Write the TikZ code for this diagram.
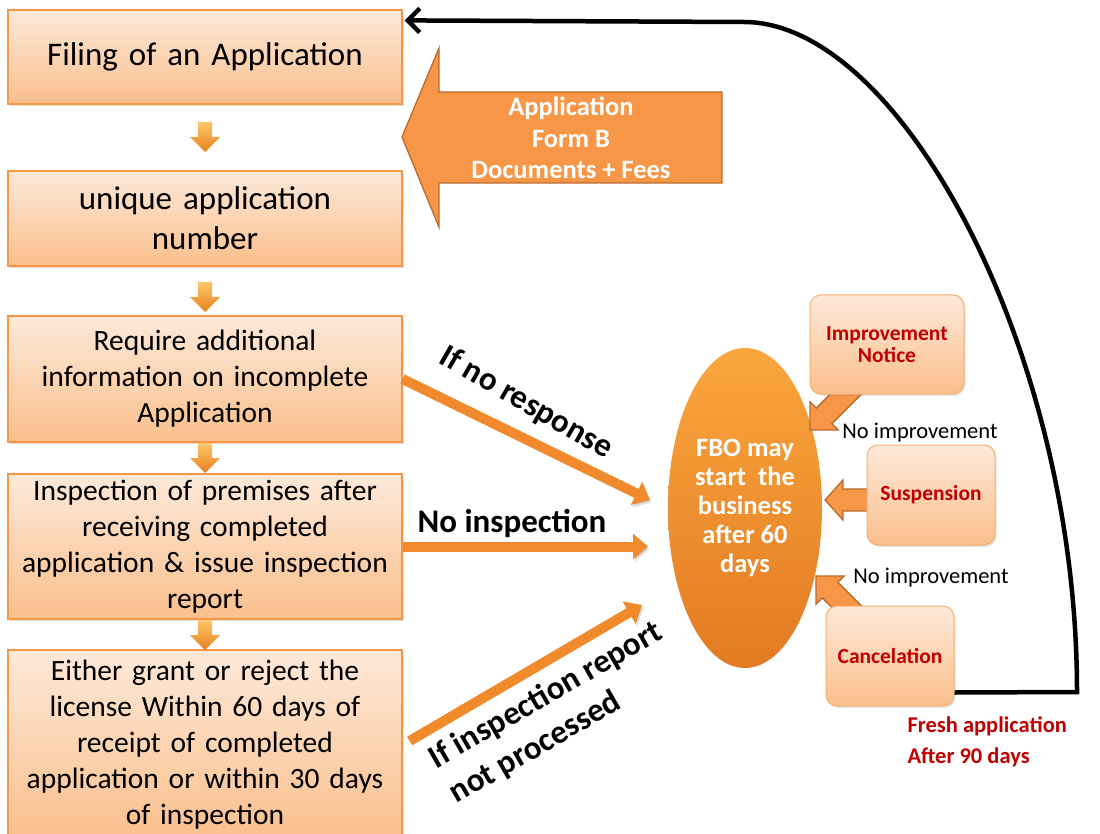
\documentclass[tikz,border=0pt]{standalone}
\usepackage{fontspec}
\setmainfont{Carlito}
\usetikzlibrary{arrows.meta,shapes.geometric,calc,shadows}

\definecolor{peachtop}{HTML}{FDE9D9}
\definecolor{peachbot}{HTML}{FABF8C}
\definecolor{peachline}{HTML}{F79646}
\definecolor{softline}{HTML}{F8AE6E}
\definecolor{blockfill}{HTML}{F79646}
\definecolor{blockedge}{HTML}{B96A2E}
\definecolor{linkorange}{HTML}{F08A2C}
\definecolor{ovaltop}{HTML}{FAA63E}
\definecolor{ovalbot}{HTML}{E27A22}
\definecolor{darkred}{HTML}{C00000}
\definecolor{tiptop}{HTML}{FCC869}
\definecolor{tipbot}{HTML}{E87F1C}

\begin{document}
\begin{tikzpicture}[x=1pt,y=-1pt,
  stepbox/.style={draw=peachline, line width=1.2pt, top color=peachtop,
    bottom color=peachbot, minimum width=394pt, inner sep=0pt,
    text width=388pt, align=center,
    drop shadow={opacity=0.25, shadow xshift=1.5pt, shadow yshift=-2pt}},
  bigtext/.style={font=\fontsize{33}{40}\selectfont},
  midtext/.style={font=\fontsize{29.5}{36}\selectfont},
  sidebox/.style={draw=softline, line width=1pt, rounded corners=11pt,
    top color=peachtop, bottom color=peachbot, align=center,
    text=darkred, font=\bfseries\fontsize{21.5}{22}\selectfont,
    drop shadow={opacity=0.2, shadow xshift=1.5pt, shadow yshift=-2pt}},
  blockarrow/.style={fill=blockfill, draw=blockedge, line width=1.3pt, line join=miter},
  smallarrow/.style={top color=tiptop, bottom color=tipbot, draw=none},
  link/.style={draw=linkorange, line width=10pt,
    -{Triangle[length=15pt, width=25pt]},
    preaction={draw=black, opacity=0.12,
      transform canvas={xshift=1.5pt, yshift=-2.5pt}}},
  linklabel/.style={font=\bfseries\fontsize{33}{40}\selectfont},
  note/.style={font=\fontsize{22.5}{24}\selectfont},
  returnline/.style={draw=black, line width=4.5pt, line join=miter,
    -{Straight Barb[length=12pt, width=24pt]}},
  downtip/.pic={
    \path[smallarrow] (-7,0) -- (7,0) -- (7,15) -- (15,15) -- (0,30)
      -- (-15,15) -- (-7,15) -- cycle;}
]
\useasboundingbox (0,0) rectangle (1100,834);

% main column of steps
\node[stepbox, bigtext, minimum height=94pt] (filing) at (205,57) {Filing of an Application};
\node[stepbox, bigtext, minimum height=95pt] (uan) at (205,218.5) {unique application\\number};
\node[stepbox, midtext, minimum height=126pt] (req) at (205,379) {Require additional\\information on incomplete\\Application};
\node[stepbox, midtext, minimum height=145pt] (insp) at (205,546.5) {Inspection of premises after\\receiving completed\\application \& issue inspection\\report};
\node[stepbox, midtext, minimum height=190pt] (grant) at (205,745) {Either grant or reject the\\license Within 60 days of\\receipt of completed\\application or within 30 days\\of inspection};

% small arrows between the steps
\pic at (205,122) {downtip};
\pic at (205,282) {downtip};
\pic at (205,443) {downtip};
\pic at (205,620) {downtip};

% incoming application block arrow
\path[blockarrow] (722,92) -- (439,92) -- (439,48) -- (402,137) -- (439,227)
  -- (439,183) -- (722,183) -- cycle;
\node[text=white, font=\bfseries\fontsize{26.5}{31.5}\selectfont, align=center]
  (appform) at (571,138) {Application\\Form B\\Documents + Fees};

% outcome oval
\node[ellipse, minimum width=154pt, minimum height=320pt, inner sep=0pt,
  top color=ovaltop, bottom color=ovalbot, text=white, align=center,
  font=\bfseries\fontsize{26.5}{29}\selectfont] (fbo) at (745,508)
  {FBO may\\start~ the\\business\\after 60\\days};

% connectors into the oval
\coordinate (in1) at (650,500);
\coordinate (in2) at (648,546.5);
\coordinate (in3) at (642,605);
\draw[link] (req.east) -- (in1);
\draw[link] ($(grant.east)+(7,-4)$) -- (in3);
\draw[link] (insp.east) -- (in2);

\node[linklabel, rotate=-30] (lnoresp) at (526,403) {If no response};
\node[linklabel] (lnoinsp) at (512,523) {No inspection};
\node[linklabel, rotate=30, align=left] (lnotproc) at (556,713)
  {If inspection report\\not processed};

% block arrows from the enforcement steps
\path[blockarrow] (810,430) -- (838.2,430) -- (831.9,423.7) -- (863.7,391.9)
  -- (848.1,376.3) -- (816.3,408.1) -- (810,401.8) -- cycle;
\path[blockarrow] (880,489) -- (843,489) -- (843,480) -- (825,500) -- (843,520)
  -- (843,511) -- (880,511) -- cycle;
\path[blockarrow] (816,576) -- (844.2,576) -- (837.9,582.3) -- (869.7,614.1)
  -- (854.1,629.7) -- (822.3,597.9) -- (816,604.2) -- cycle;

% enforcement steps
\node[sidebox, minimum width=154pt, minimum height=99pt] (notice) at (887,344.5) {Improvement\\Notice};
\node[sidebox, minimum width=128pt, minimum height=100pt] (susp) at (931,495) {Suspension};
\node[sidebox, minimum width=128pt, minimum height=100pt] (cancel) at (890,656) {Cancelation};

\node[note] (noimp1) at (920,433) {No improvement};
\node[note] (noimp2) at (931,578) {No improvement};

% return path to a fresh application
\draw[returnline] ($(cancel.south east)+(0,-14)$) -- (1077,692)
  .. controls (1077,350) and (900,22) .. (744,22)
  -- ($(filing.north east)+(2,11)$);
\node[anchor=west, align=left, text=darkred,
  font=\bfseries\fontsize{22.5}{31}\selectfont] (fresh) at (904,742)
  {Fresh application\\After 90 days};
\end{tikzpicture}
\end{document}
